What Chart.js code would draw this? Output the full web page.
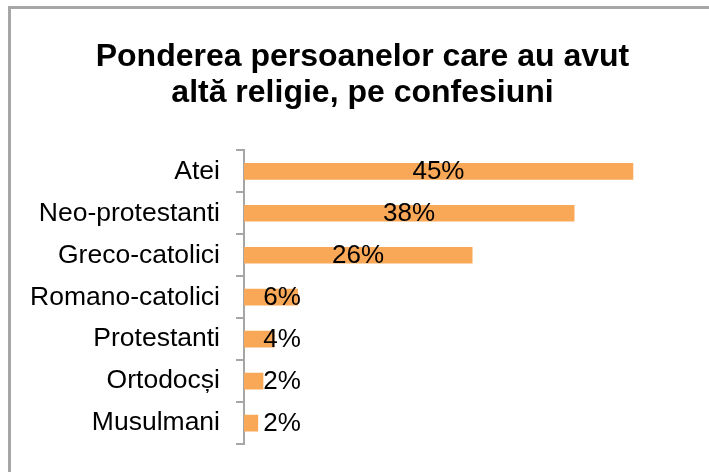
<!DOCTYPE html>
<html>
<head>
<meta charset="utf-8">
<script src="https://cdn.jsdelivr.net/npm/chart.js@4"></script>
<style>
  html, body { margin: 0; padding: 0; background: #fff; overflow: hidden; }
  #wrap { width: 709px; height: 472px; position: relative; }
</style>
</head>
<body>
<div id="wrap"><canvas id="religion-chart"></canvas></div>
<script>
const categories = ['Atei', 'Neo-protestanti', 'Greco-catolici', 'Romano-catolici', 'Protestanti', 'Ortodocși', 'Musulmani'];
const shares = [45, 38.2, 26.4, 6.2, 3.5, 2.2, 1.6];
const titleLines = ['Ponderea persoanelor care au avut', 'altă religie, pe confesiuni'];

const FONT = "'Liberation Sans', Arial, sans-serif";

// grey frame round the chart, it runs off the right and bottom edge
const framePlugin = {
    id: 'frame',
    beforeDraw(chart) {
        const ctx = chart.ctx;
        ctx.save();
        ctx.strokeStyle = '#a6a6a6';
        ctx.lineWidth = 3;
        ctx.strokeRect(9.5, 7.5, chart.width + 20, chart.height + 20);
        ctx.restore();
    }
};

// percent labels, centred on the bar or pushed right when the bar is short
const valueLabels = {
    id: 'valueLabels',
    afterDatasetsDraw(chart) {
        const ctx = chart.ctx;
        const meta = chart.getDatasetMeta(0);
        const left = chart.chartArea.left;
        ctx.save();
        ctx.font = '26px ' + FONT;
        ctx.fillStyle = '#000';
        ctx.textAlign = 'center';
        ctx.textBaseline = 'middle';
        meta.data.forEach((bar, i) => {
            const x = Math.max((bar.base + bar.x) / 2, left + 38);
            ctx.fillText(Math.round(shares[i]) + '%', x, bar.y + 1);
        });
        ctx.restore();
    }
};

new Chart(document.querySelector('#religion-chart').getContext('2d'), {
    type: 'bar',
    data: {
        labels: categories,
        datasets: [{
            data: shares,
            backgroundColor: '#f9a857',
            borderWidth: 0,
            barThickness: 16
        }]
    },
    options: {
        indexAxis: 'y',
        responsive: true,
        maintainAspectRatio: false,
        animation: false,
        events: [],
        layout: { padding: { left: 16, right: 0, top: 0, bottom: 26.8 } },
        plugins: {
            legend: { display: false },
            tooltip: { enabled: false },
            title: {
                display: true,
                text: titleLines,
                color: '#000',
                font: { family: FONT, size: 32, weight: 'bold', lineHeight: 1.13 },
                padding: { top: 39, bottom: 39 }
            }
        },
        scales: {
            x: { display: false, min: 0, max: 53.8 },
            y: {
                afterFit(scale) { scale.width = 228; },
                border: { display: true, color: '#a6a6a6', width: 2 },
                grid: {
                    drawOnChartArea: false,
                    drawTicks: true,
                    tickLength: 8,
                    tickColor: '#a6a6a6',
                    lineWidth: 2
                },
                ticks: {
                    color: '#000',
                    padding: 16,
                    font: { family: FONT, size: 26.5, lineHeight: 0.9 }
                }
            }
        }
    },
    plugins: [framePlugin, valueLabels]
});
</script>
</body>
</html>
